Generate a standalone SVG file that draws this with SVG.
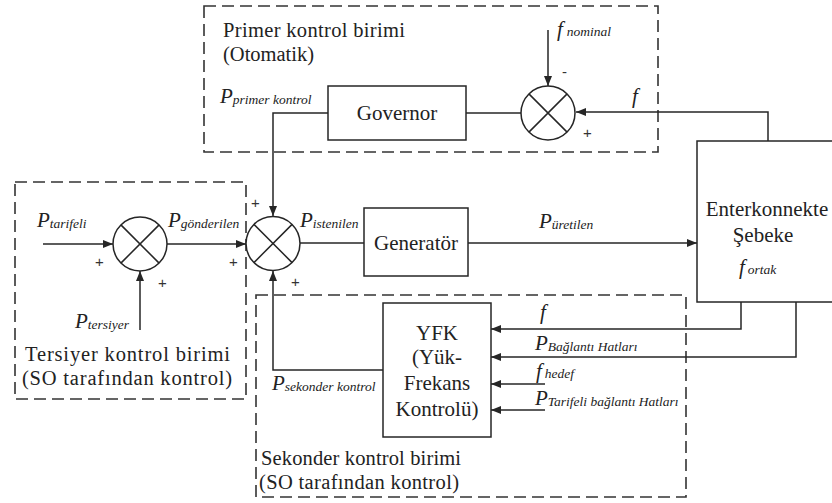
<svg xmlns="http://www.w3.org/2000/svg" width="832" height="503" viewBox="0 0 832 503">
<defs>
<marker id="arr" viewBox="0 0 10 8" refX="10" refY="4" markerWidth="10" markerHeight="8" markerUnits="userSpaceOnUse" orient="auto">
<path d="M0,0 L10,4 L0,8 z" fill="#262626"/>
</marker>
</defs>
<style>
.ln{fill:none;stroke:#262626;stroke-width:1.5}
.a{marker-end:url(#arr)}
.box{fill:#fff;stroke:#262626;stroke-width:1.5}
.dash{fill:none;stroke:#333;stroke-width:1.6;stroke-dasharray:12 6}
text{font-family:'Liberation Serif','DejaVu Serif',serif;fill:#222}
.t{font-size:21px}
.r{font-size:20.5px}
.c{text-anchor:middle}
.i{font-style:italic;font-size:21px}
.s{font-size:13.5px}
.pm{font-family:'Liberation Sans','DejaVu Sans',sans-serif;font-size:15px;fill:#333}
</style>
<rect width="832" height="503" fill="#fff"/>

<g id="regions">
<rect class="dash" x="204" y="6" width="454" height="146"/>
<rect class="dash" x="15" y="182" width="231" height="217"/>
<rect class="dash" x="256" y="295" width="430" height="202"/>
<text class="r" x="223" y="37" textLength="182">Primer kontrol birimi</text>
<text class="r" x="223" y="61">(Otomatik)</text>
<text class="r" x="25" y="361" textLength="205">Tersiyer kontrol birimi</text>
<text class="r" x="22" y="385" textLength="210">(SO tarafından kontrol)</text>
<text class="r" x="261" y="465" textLength="200">Sekonder kontrol birimi</text>
<text class="r" x="259" y="489" textLength="200">(SO tarafından kontrol)</text>
</g>

<g id="connectors">
<polyline class="ln a" points="328,113 273,113 273,216"/>
<polyline class="ln a" points="383,370 273,370 273,271"/>
<polyline class="ln a" points="768,141 768,112 576,112"/>
<line class="ln a" x1="548" y1="30" x2="548" y2="86"/>
<line class="ln" x1="521" y1="113" x2="466" y2="113"/>
<line class="ln a" x1="167" y1="244" x2="246" y2="244"/>
<line class="ln" x1="300" y1="243" x2="364" y2="243"/>
<line class="ln a" x1="468" y1="243" x2="697" y2="243"/>
<line class="ln a" x1="43" y1="244" x2="113" y2="244"/>
<line class="ln a" x1="140" y1="330" x2="140" y2="271"/>
<polyline class="ln a" points="741,302 741,329 491,329"/>
<polyline class="ln a" points="796,302 796,357 491,357"/>
<line class="ln a" x1="545" y1="384" x2="491" y2="384"/>
<line class="ln a" x1="545" y1="410" x2="491" y2="410"/>
</g>

<g id="sum-primer">
<circle class="box" cx="548" cy="113" r="27"/>
<path class="ln" d="M528.9,93.9 L567.1,132.1 M567.1,93.9 L528.9,132.1"/>
</g>
<g id="sum-tersiyer">
<circle class="box" cx="140" cy="244" r="27"/>
<path class="ln" d="M120.9,224.9 L159.1,263.1 M159.1,224.9 L120.9,263.1"/>
</g>
<g id="sum-main">
<circle class="box" cx="273" cy="243.5" r="27"/>
<path class="ln" d="M253.9,224.4 L292.1,262.6 M292.1,224.4 L253.9,262.6"/>
</g>

<g id="governor">
<rect class="box" x="328" y="86" width="138" height="54"/>
<text class="t c" x="397" y="120">Governor</text>
</g>
<g id="generator">
<rect class="box" x="364" y="208" width="104" height="68"/>
<text class="t c" x="416" y="250">Generatör</text>
</g>
<g id="sebeke">
<rect class="box" x="697" y="141" width="150" height="161"/>
<text class="t c" x="767" y="216">Enterkonnekte</text>
<text class="t c" x="763" y="242">Şebeke</text>
<text class="i" x="739" y="274">f<tspan class="s" dx="3">ortak</tspan></text>
</g>
<g id="yfk">
<rect class="box" x="383" y="303" width="108" height="134"/>
<text class="t c" x="437" y="340">YFK</text>
<text class="t c" x="437" y="364">(Yük-</text>
<text class="t c" x="437" y="390">Frekans</text>
<text class="t c" x="437" y="416">Kontrolü)</text>
</g>

<g id="labels">
<text class="i" x="220" y="103">P<tspan class="s" dy="1">primer kontrol</tspan></text>
<text class="i" x="557" y="36">f<tspan class="s" dx="4">nominal</tspan></text>
<text class="pm" x="562" y="77">-</text>
<text class="pm" x="583" y="138">+</text>
<text class="i" x="632" y="103">f</text>
<text class="i" x="37" y="227">P<tspan class="s" dy="1">tarifeli</tspan></text>
<text class="i" x="168" y="227">P<tspan class="s" dy="1">gönderilen</tspan></text>
<text class="pm" x="95" y="267">+</text>
<text class="pm" x="158" y="288">+</text>
<text class="pm" x="229" y="267">+</text>
<text class="pm" x="251" y="208">+</text>
<text class="pm" x="291" y="287">+</text>
<text class="i" x="75" y="328">P<tspan class="s" dy="1">tersiyer</tspan></text>
<text class="i" x="300" y="227">P<tspan class="s" dy="1">istenilen</tspan></text>
<text class="i" x="539" y="228">P<tspan class="s" dy="1">üretilen</tspan></text>
<text class="i" x="540" y="319">f</text>
<text class="i" x="535" y="350">P<tspan class="s" dy="1">Bağlantı Hatları</tspan></text>
<text class="i" x="536" y="378">f<tspan class="s" dx="3">hedef</tspan></text>
<text class="i" x="535" y="405">P<tspan class="s" dy="1">Tarifeli bağlantı Hatları</tspan></text>
<text class="i" x="272" y="390">P<tspan class="s" dy="1">sekonder kontrol</tspan></text>
</g>
</svg>
